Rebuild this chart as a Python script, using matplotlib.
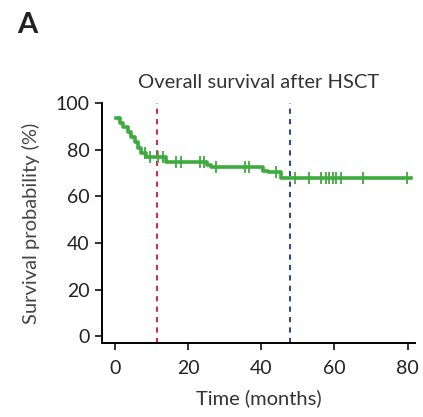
import matplotlib
matplotlib.use("Agg")
import matplotlib.pyplot as plt
import numpy as np

plt.rcParams['font.family'] = ['Lato', 'DejaVu Sans']

# Kaplan-Meier step curve (months, survival %)
step_times = [0.4, 1.4, 2.3, 3.6, 4.5, 5.4, 6.4, 7.3, 8.4, 14.1, 25.3, 26.3, 40.4, 41.8, 45.4, 81.0]
step_surv = [93.5, 91.3, 89.8, 87.7, 85.5, 83.4, 80.5, 78.4, 77.0, 74.8, 73.5, 72.7, 71.0, 70.2, 67.7, 67.7]

# censored observations (months)
censor_times = [8.2, 9.5, 11.8, 13.1, 16.8, 18.2, 23.2, 24.5, 27.7, 35.5, 36.8, 44.0,
                 49.1, 53.1, 56.3, 57.7, 58.6, 59.5, 60.4, 61.8, 67.7, 79.9]

# reference lines (months)
landmark_times = [11.5, 48.0]
landmark_colors = ['#c8324a', '#2f4f7f']

x_ticks = [0, 20, 40, 60, 80]
y_ticks = [0, 20, 40, 60, 80, 100]

green = '#3dab3d'

fig = plt.figure(figsize=(4.23, 4.17), dpi=100)
ax = fig.add_axes([0.241, 0.177, 0.740, 0.576])

# survival curve
ax.step(step_times, step_surv, where='post', color=green, linewidth=2.6, zorder=3)

# censor marks sit on the curve
idx = np.searchsorted(step_times, censor_times, side='right') - 1
censor_vals = np.array(step_surv)[idx]
ax.plot(censor_times, censor_vals, linestyle='none', marker='|', markersize=8,
        markeredgewidth=1.3, color=green, zorder=4)

# dashed reference lines
for t, c in zip(landmark_times, landmark_colors):
    ax.axvline(t, ymin=0, ymax=1, color=c, linestyle=(0, (2.5, 2.5)), linewidth=1.5, zorder=2)

ax.set_xlim(-3.5, 82)
ax.set_ylim(-3, 100)
ax.set_xticks(x_ticks)
ax.set_yticks(y_ticks)

ax.spines['top'].set_visible(False)
ax.spines['right'].set_visible(False)
ax.spines['left'].set_linewidth(1.4)
ax.spines['bottom'].set_linewidth(1.4)
ax.tick_params(axis='both', length=5, width=1.3, labelsize=14, colors='#222222')
ax.tick_params(axis='x', pad=7)
ax.tick_params(axis='y', pad=4)

ax.set_xlabel("Time (months)", fontsize=14.5, color='#333333', labelpad=9)
ax.set_ylabel("Survival probability (%)", fontsize=14.5, color='#444444', labelpad=11)
ax.set_title("Overall survival after HSCT", fontsize=14.5, color='#333333', pad=11)

fig.text(0.040, 0.921, "A", fontsize=21, fontweight='bold', color='#222222', va='baseline')

fig.savefig("out.png", dpi=100)
